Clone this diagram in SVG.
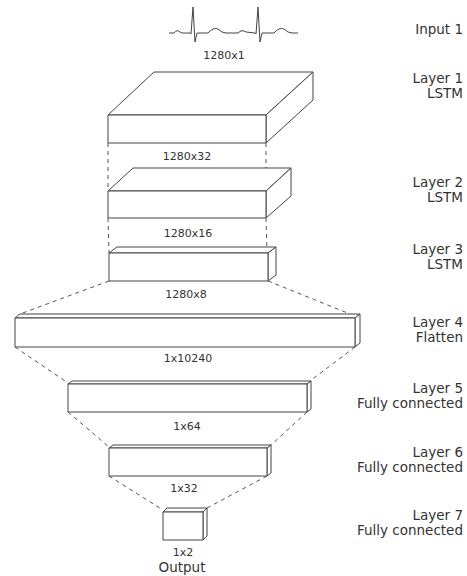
<svg xmlns="http://www.w3.org/2000/svg" width="467" height="576" viewBox="0 0 467 576">
<style>
.box{fill:#fff;stroke:#444;stroke-width:1;stroke-linejoin:round}
.dash{fill:none;stroke:#555;stroke-width:1;stroke-dasharray:4 4}
.dim{font-family:"DejaVu Sans",Verdana,sans-serif;font-size:11px;fill:#333;text-anchor:middle}
.lab{font-family:"DejaVu Sans",Verdana,sans-serif;font-size:13.5px;fill:#333;text-anchor:end}
.ecg{fill:none;stroke:#444;stroke-width:1;stroke-linejoin:round}
</style>
<rect width="467" height="576" fill="#fff"/>
<g id="connectors">
<line class="dash" x1="108" y1="143" x2="108" y2="191"/>
<line class="dash" x1="266" y1="143" x2="266" y2="191"/>
<line class="dash" x1="108" y1="218" x2="109" y2="253"/>
<line class="dash" x1="266" y1="218" x2="267" y2="253"/>
<line class="dash" x1="109" y1="281" x2="20" y2="314"/>
<line class="dash" x1="268" y1="281" x2="355" y2="316"/>
<line class="dash" x1="15" y1="347" x2="68" y2="383"/>
<line class="dash" x1="355" y1="347" x2="310" y2="381"/>
<line class="dash" x1="68" y1="412" x2="109" y2="447"/>
<line class="dash" x1="307" y1="412" x2="271" y2="445"/>
<line class="dash" x1="109" y1="476" x2="163" y2="510"/>
<line class="dash" x1="267" y1="476" x2="207" y2="508"/>
</g>
<g id="input">
<path class="ecg" d="M169,33 L174,33 Q177,29 180,32 L182,33 L190,33 L191,34 L193,7 L195,42 L197,33 L208,33 Q213,27 218,29 Q222,33 226,33 L238,33 Q242,29 246,32 L255,33 L256,34 L258,7 L260,42 L262,33 L274,33 Q279,27 284,29 Q288,33 292,33 L298,33"/>
<text class="dim" x="224" y="59">1280x1</text>
</g>
<g id="layer1">
<polygon class="box" points="108,115 154,72 313,72 266,115"/>
<polygon class="box" points="266,115 313,72 313,100 266,143"/>
<rect class="box" x="108" y="115" width="158" height="28"/>
<text class="dim" x="187" y="160">1280x32</text>
</g>
<g id="layer2">
<polygon class="box" points="108,191 133,168 291,168 266,191"/>
<polygon class="box" points="266,191 291,168 291,196 266,218"/>
<rect class="box" x="108" y="191" width="158" height="27"/>
<text class="dim" x="188" y="237">1280x16</text>
</g>
<g id="layer3">
<polygon class="box" points="109,253 117,247 276,247 268,253"/>
<polygon class="box" points="268,253 276,247 276,275 268,281"/>
<rect class="box" x="109" y="253" width="159" height="28"/>
<text class="dim" x="186" y="298">1280x8</text>
</g>
<g id="layer4">
<polygon class="box" points="15,318 20,314 360,314 355,318"/>
<polygon class="box" points="355,318 360,314 360,343 355,347"/>
<rect class="box" x="15" y="318" width="340" height="29"/>
<text class="dim" x="188" y="362">1x10240</text>
</g>
<g id="layer5">
<polygon class="box" points="68,384 72,381 311,381 307,384"/>
<polygon class="box" points="307,384 311,381 311,409 307,412"/>
<rect class="box" x="68" y="384" width="239" height="28"/>
<text class="dim" x="187" y="430">1x64</text>
</g>
<g id="layer6">
<polygon class="box" points="109,448 113,445 271,445 267,448"/>
<polygon class="box" points="267,448 271,445 271,473 267,476"/>
<rect class="box" x="109" y="448" width="158" height="28"/>
<text class="dim" x="184" y="492">1x32</text>
</g>
<g id="layer7">
<polygon class="box" points="163,512 167,508 207,508 203,512"/>
<polygon class="box" points="203,512 207,508 207,536 203,540"/>
<rect class="box" x="163" y="512" width="40" height="28"/>
<text class="dim" x="183" y="556">1x2</text>
<text class="dim" x="182" y="572" style="font-size:13.5px">Output</text>
</g>
<g id="labels">
<text class="lab" x="463" y="34">Input 1</text>
<text class="lab" x="463" y="83">Layer 1</text>
<text class="lab" x="463" y="98">LSTM</text>
<text class="lab" x="463" y="187">Layer 2</text>
<text class="lab" x="463" y="202">LSTM</text>
<text class="lab" x="463" y="254">Layer 3</text>
<text class="lab" x="463" y="269">LSTM</text>
<text class="lab" x="463" y="327">Layer 4</text>
<text class="lab" x="463" y="342">Flatten</text>
<text class="lab" x="463" y="393">Layer 5</text>
<text class="lab" x="463" y="408">Fully connected</text>
<text class="lab" x="463" y="457">Layer 6</text>
<text class="lab" x="463" y="472">Fully connected</text>
<text class="lab" x="463" y="520">Layer 7</text>
<text class="lab" x="463" y="535">Fully connected</text>
</g>
</svg>
